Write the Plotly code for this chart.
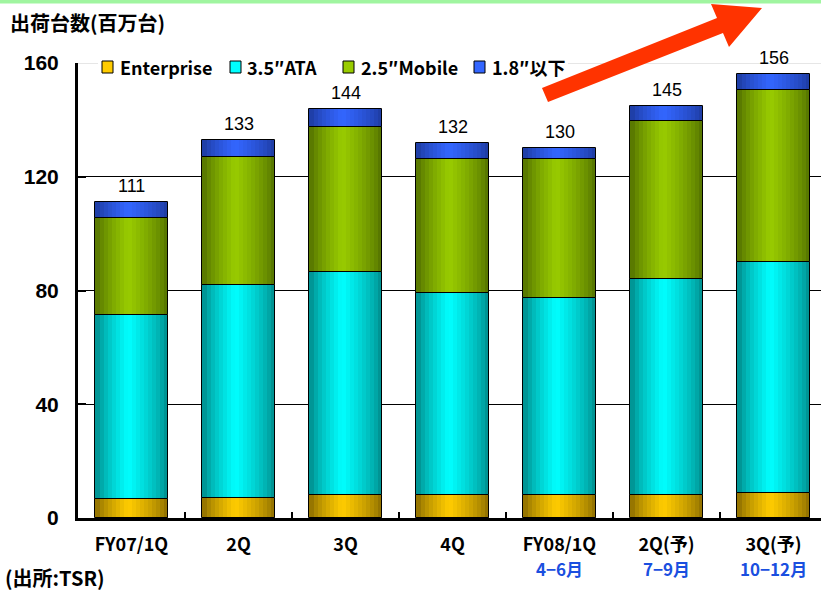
import numpy as np
import plotly.graph_objects as go

# ---------------- data ----------------
categories = ["FY07/1Q", "2Q", "3Q", "4Q", "FY08/1Q", "2Q(予)", "3Q(予)"]
months = ["", "", "", "", "4−6月", "7−9月", "10−12月"]
enterprise = [6.8, 7.2, 8.2, 8.2, 8.2, 8.2, 8.9]
ata35 = [64.6, 74.7, 78.3, 71.0, 69.2, 75.8, 81.1]
mobile25 = [34.2, 45.1, 51.1, 47.1, 48.9, 55.5, 60.6]
under18 = [5.4, 6.0, 6.4, 5.7, 3.7, 5.5, 5.4]
totals = [111, 133, 144, 132, 130, 145, 156]
series_names = ["Enterprise", "3.5″ATA", "2.5″Mobile", "1.8″以下"]
y_ticks = [0, 40, 80, 120, 160]

# ---------------- style ----------------
W, H = 821, 592
L, R, T, B = 78, 0, 63, 74
BAR_W = 0.673
N_STRIPS = 18
bright = ["#FFCC00", "#00FFFF", "#99CC00", "#3366FF"]
dark = ["#866800", "#008585", "#4F6C00", "#1C389A"]
CJK = "Noto Sans CJK JP"


def hex2rgb(h):
    h = h.lstrip("#")
    return np.array([int(h[i:i + 2], 16) for i in (0, 2, 4)], dtype=float)


def mix(c1, c2, t):
    c = hex2rgb(c1) * (1 - t) + hex2rgb(c2) * t
    return "rgb(%d,%d,%d)" % tuple(np.round(c).astype(int))


values = [enterprise, ata35, mobile25, under18]
arr = np.array(values, dtype=float)
bases = np.vstack([np.zeros(arr.shape[1]), np.cumsum(arr, axis=0)[:-1]])

fig = go.Figure()

# gradient bars: side-by-side vertical strips (slightly overlapping)
sw = BAR_W / N_STRIPS
CENTER = 0.45
for s in range(4):
    for k in range(N_STRIPS):
        p = (k + 0.5) / N_STRIPS
        span = CENTER if p < CENTER else 1 - CENTER
        t = max(0.0, 1 - abs(p - CENTER) / span) ** 0.7
        off = -BAR_W / 2 + k * sw
        wk = sw * 1.35 if k < N_STRIPS - 1 else sw
        fig.add_trace(go.Bar(
            x=categories, y=values[s], base=bases[s],
            width=wk, offset=off,
            marker=dict(color=mix(dark[s], bright[s], t), line=dict(width=0)),
            showlegend=False, hoverinfo="skip"))
    # outline
    fig.add_trace(go.Bar(
        x=categories, y=values[s], base=bases[s],
        width=BAR_W, offset=-BAR_W / 2,
        marker=dict(color="rgba(0,0,0,0)", line=dict(color="black", width=1)),
        showlegend=False, hoverinfo="skip"))

plot_w = W - L - R
plot_h = H - T - B


def px2x(px):
    return (px - L) / plot_w


def py2y(py):
    return (H - B - py) / plot_h


# arrow polygon (decoration, in pixel-derived paper coords)
arrow_px = [(542, 88), (717, 18), (711, 4), (762, 8), (729, 47), (723, 33), (548, 102)]
path = "M " + " L ".join("%f,%f" % (px2x(x), py2y(y)) for x, y in arrow_px) + " Z"

shapes = [
    dict(type="line", xref="paper", yref="y", x0=0, x1=1, y0=160, y1=160,
         line=dict(color="#E6E6E6", width=2), layer="between"),
    dict(type="rect", xref="paper", yref="paper",
         x0=px2x(98), x1=px2x(568), y0=py2y(77), y1=py2y(57),
         fillcolor="white", line=dict(width=0), layer="between"),
    dict(type="rect", xref="paper", yref="paper",
         x0=px2x(0), x1=px2x(W), y0=py2y(3.5), y1=py2y(0),
         fillcolor="#A0F5A0", line=dict(width=0), layer="above"),
    dict(type="path", xref="paper", yref="paper", path=path,
         fillcolor="#FF3300", line=dict(width=0), layer="above"),
]

# manual legend: swatches + texts
legend_swatch_px = [102, 230, 343, 474]
legend_text_px = [118, 245, 359, 490]
LEG_Y = 67
annotations = []
for s in range(4):
    x0 = legend_swatch_px[s]
    shapes.append(dict(type="rect", xref="paper", yref="paper",
                       x0=px2x(x0), x1=px2x(x0 + 11), y0=py2y(LEG_Y + 6), y1=py2y(LEG_Y - 6),
                       fillcolor=bright[s], line=dict(color="black", width=1), layer="above"))
    annotations.append(dict(text=series_names[s], xref="paper", yref="paper",
                            x=px2x(legend_text_px[s]), y=py2y(LEG_Y), xanchor="left", yanchor="middle",
                            showarrow=False,
                            font=dict(family=CJK, size=18, color="black", weight="bold")))

# totals labels above bars
for c, v in zip(categories, totals):
    annotations.append(dict(text=str(v), x=c, y=v, xref="x", yref="y",
                            yanchor="bottom", yshift=4, showarrow=False,
                            font=dict(family="Liberation Sans, Arial", size=18, color="black")))

# month sub-labels (blue)
for c, m in zip(categories, months):
    if m:
        annotations.append(dict(text=m, x=c, y=0, xref="x", yref="y",
                                yanchor="middle", yshift=-50, showarrow=False,
                                font=dict(family=CJK, size=17, color="#1a4fe0", weight="bold")))

annotations += [
    dict(text="出荷台数(百万台)", xref="paper", yref="paper",
         x=px2x(8), y=py2y(22), xanchor="left", yanchor="middle", showarrow=False,
         font=dict(family=CJK, size=20, color="black", weight="bold")),
    dict(text="(出所:TSR)", xref="paper", yref="paper",
         x=px2x(3), y=py2y(577), xanchor="left", yanchor="middle", showarrow=False,
         font=dict(family=CJK, size=20, color="black", weight="bold")),
]

fig.update_layout(
    width=W, height=H,
    margin=dict(l=L, r=R, t=T, b=B, pad=0, autoexpand=False),
    paper_bgcolor="white", plot_bgcolor="white",
    barmode="overlay",
    bargap=0,
    font=dict(family=CJK, color="black"),
    showlegend=False,
    xaxis=dict(type="category", range=[-0.5, -0.5 + plot_w / 107.0],
               tickson="boundaries", ticks="inside", ticklen=6, tickwidth=2, tickcolor="black",
               showline=True, linecolor="black", linewidth=3,
               showgrid=False, zeroline=False, automargin=False,
               tickfont=dict(family=CJK, size=18, color="black", weight="bold"),
               ticklabelstandoff=8),
    yaxis=dict(range=[0, 160], tickvals=y_ticks,
               ticks="inside", ticklen=8, tickwidth=2, tickcolor="black",
               showline=True, linecolor="black", linewidth=3,
               showgrid=True, gridcolor="black", gridwidth=1,
               zeroline=False, automargin=False,
               tickfont=dict(family="Liberation Sans, Arial", size=21, color="black", weight="bold"),
               ticklabelstandoff=12),
    shapes=shapes,
    annotations=annotations,
)

fig.write_html("out.html", config={"displayModeBar": False},
               post_script="document.body.style.margin='0';")
